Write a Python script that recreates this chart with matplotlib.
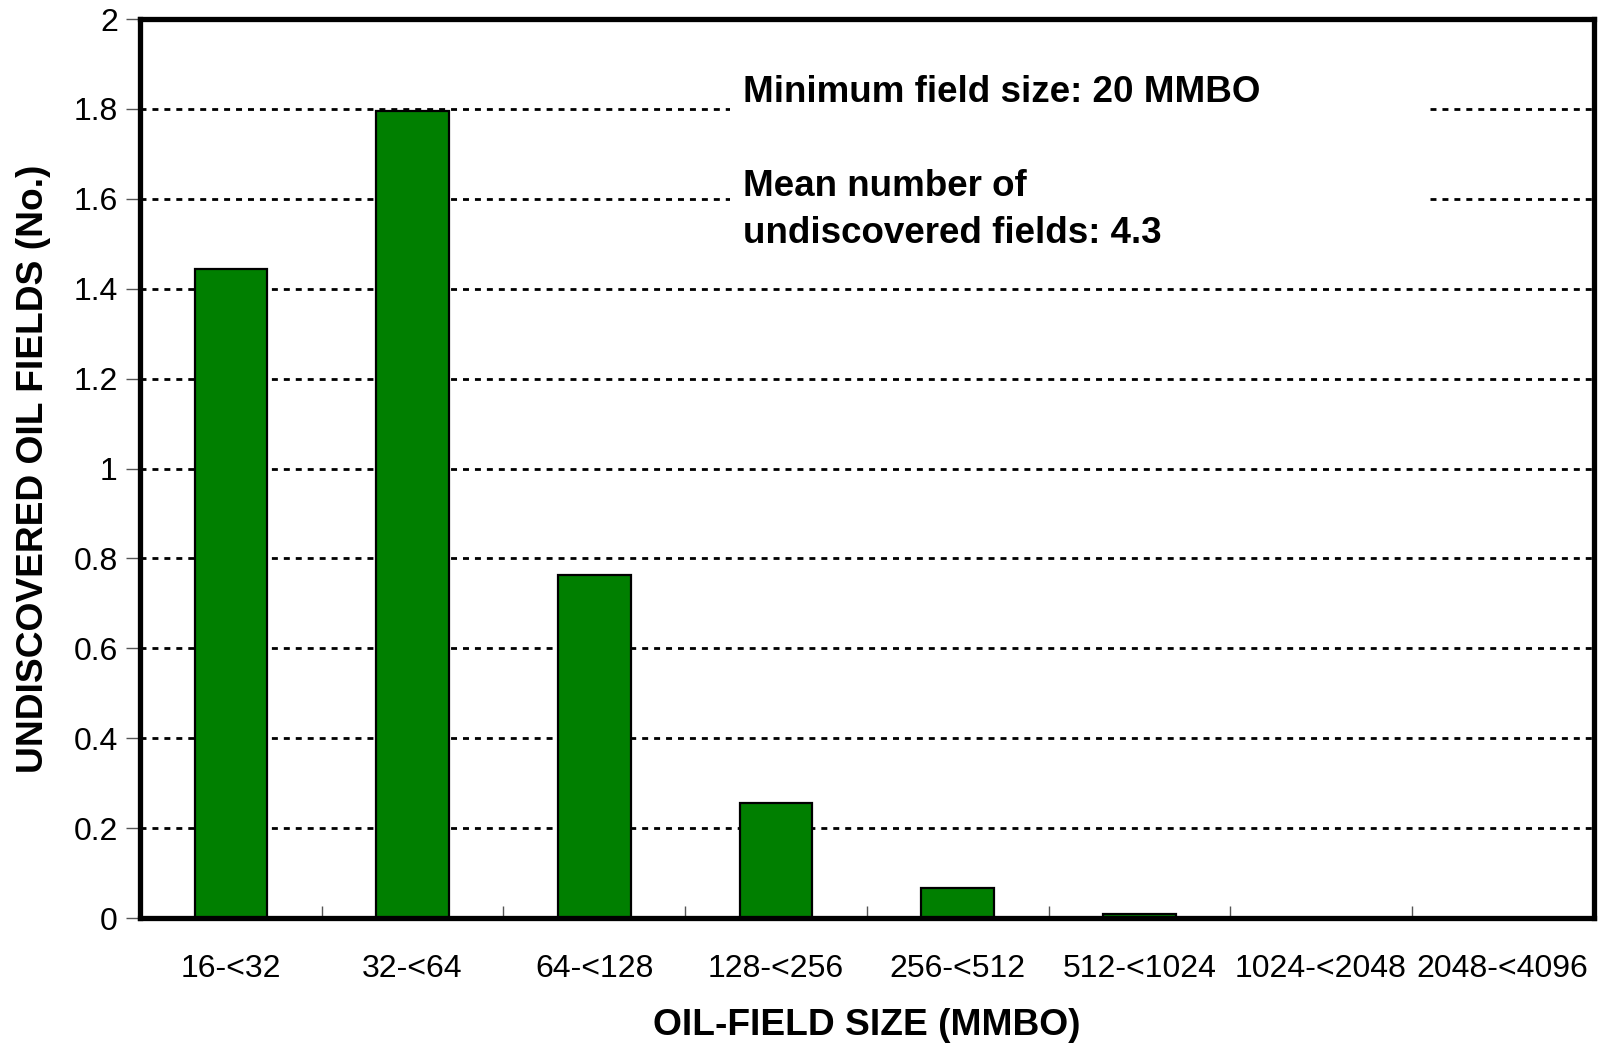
import matplotlib
matplotlib.use("Agg")
import matplotlib.pyplot as plt
import numpy as np
from matplotlib.patches import Rectangle

categories = ["16-<32", "32-<64", "64-<128", "128-<256", "256-<512",
              "512-<1024", "1024-<2048", "2048-<4096"]
values = [1.445, 1.795, 0.763, 0.255, 0.066, 0.01, 0.0, 0.0]
yticks = [0, 0.2, 0.4, 0.6, 0.8, 1, 1.2, 1.4, 1.6, 1.8, 2]
ytick_labels = ["0", "0.2", "0.4", "0.6", "0.8", "1", "1.2", "1.4", "1.6", "1.8", "2"]

plt.rcParams['font.family'] = ['Liberation Sans', 'DejaVu Sans']
plt.rcParams['lines.scale_dashes'] = False

fig = plt.figure(figsize=(16, 10.47), dpi=100)
ax = fig.add_axes([0.0875, 0.1232, 0.9085, 0.8586])

x = np.arange(len(categories))
ax.bar(x, values, width=0.4, color='#007f00', edgecolor='black', linewidth=1.6, zorder=3)

ax.set_xlim(-0.5, len(categories) - 0.5)
ax.set_ylim(0, 2)
ax.set_yticks(yticks)
ax.set_yticklabels(ytick_labels, fontsize=23)
ax.set_xticks(x)
ax.set_xticklabels(categories, fontsize=23)
ax.tick_params(axis='x', which='major', length=0, pad=26)
ax.set_xticks(np.arange(0.5, len(categories) - 0.5, 1), minor=True)
ax.tick_params(axis='x', which='minor', direction='in', length=9, width=1, color='#555555')
ax.tick_params(axis='y', which='major', direction='out', length=10, width=1, color='#555555', pad=6)

for gy in yticks[1:-1]:
    ax.axhline(gy, color='black', linewidth=2, dashes=(4.3, 4.3), zorder=1)

for s in ax.spines.values():
    s.set_linewidth(3.8)
    s.set_zorder(5)

ax.add_patch(Rectangle((0.406, 0.743), 0.48, 0.205, transform=ax.transAxes,
                       facecolor='white', edgecolor='none', zorder=2))
ax.text(0.4145, 0.938, "Minimum field size: 20 MMBO\n\nMean number of\nundiscovered fields: 4.3",
        transform=ax.transAxes, fontsize=26.5, fontweight='bold', va='top', ha='left',
        linespacing=1.45, zorder=4)

ax.set_xlabel("OIL-FIELD SIZE (MMBO)", fontsize=26.7, fontweight='bold', labelpad=17)
ax.set_ylabel("UNDISCOVERED OIL FIELDS (No.)", fontsize=26.7, fontweight='bold', labelpad=16)

fig.savefig("out.png", dpi=100)
